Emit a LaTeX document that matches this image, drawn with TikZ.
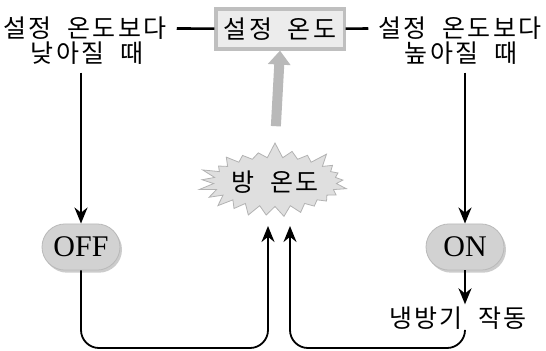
\documentclass[tikz,border=0pt]{standalone}
\usepackage{fontspec}
\setmainfont{Liberation Serif}
\newfontfamily\kr[LetterSpace=9,WordSpace=2]{Noto Sans CJK KR}
\usetikzlibrary{arrows.meta,shapes.symbols,shapes.misc,shadows}
\tikzset{
  kor/.style={font=\kr\fontsize{12.5}{14}\selectfont, inner sep=1pt},
  setbox/.style={kor, draw=gray!50, line width=1.6pt, fill=gray!15,
    minimum width=64pt, minimum height=20pt, inner xsep=4pt},
  switchbox/.style={rounded rectangle, font=\fontsize{15}{17}\selectfont,
    fill=gray!35, draw=gray!55, minimum width=43pt, inner ysep=6.5pt,
    inner xsep=2pt, drop shadow={shadow xshift=1pt, shadow yshift=-1.3pt, fill=gray!80}},
  roomtemp/.style={kor, starburst, starburst points=25, starburst point height=8pt,
    random starburst=7, fill=gray!25, draw=gray!60, inner xsep=0pt, inner ysep=3pt,
    minimum width=54pt, minimum height=25pt},
  flow/.style={-{Stealth[length=8pt,width=6.5pt]}, line width=1.2pt},
  back/.style={-{Stealth[length=8pt,width=6.5pt]}, line width=0.9pt, rounded corners=9pt}
}
\begin{document}
\begin{tikzpicture}[x=0.5pt, y=-0.5pt]
  \useasboundingbox (0,0) rectangle (546,350);
  \node[setbox] (set) at (280,29) {설정 온도};
  \node[kor] (low1) at (85,28) {설정 온도보다};
  \node[kor] (low2) at (87,53) {낮아질 때};
  \node[kor] (high1) at (460,28) {설정 온도보다};
  \node[kor] (high2) at (461,53) {높아질 때};
  \node[roomtemp] (room) at (275,182) {방 온도};
  \node[switchbox] (off) at (81,247) {OFF};
  \node[switchbox] (on) at (465,247) {ON};
  \node[kor] (cool) at (458,318) {냉방기 작동};
  \coordinate (bot) at (0,348);
  \coordinate (inl) at (268,226);
  \coordinate (inr) at (290,226);
  % lines to the set point
  \draw[line width=1.3pt, shorten <=4pt] (low1) -- (set);
  \draw[line width=1.3pt, shorten >=4pt] (set) -- (high1);
  \draw[gray!55, line width=5pt, -{Triangle[length=7pt,width=11pt]}, shorten <=8pt]
    (room.north) -- (set.south);
  % down to the switches
  \draw[flow] (off |- low2.south) ++(0,6) -- (off.north);
  \draw[flow] (on |- high2.south) ++(0,6) -- (on.north);
  \draw[flow] (on.south) -- (on |- cool.north);
  % back to the room
  \draw[back] (off.south) -- (off.south |- bot) -| (inl);
  \draw[back] (on |- cool.south) -- (on |- bot) -| (inr);
\end{tikzpicture}
\end{document}
